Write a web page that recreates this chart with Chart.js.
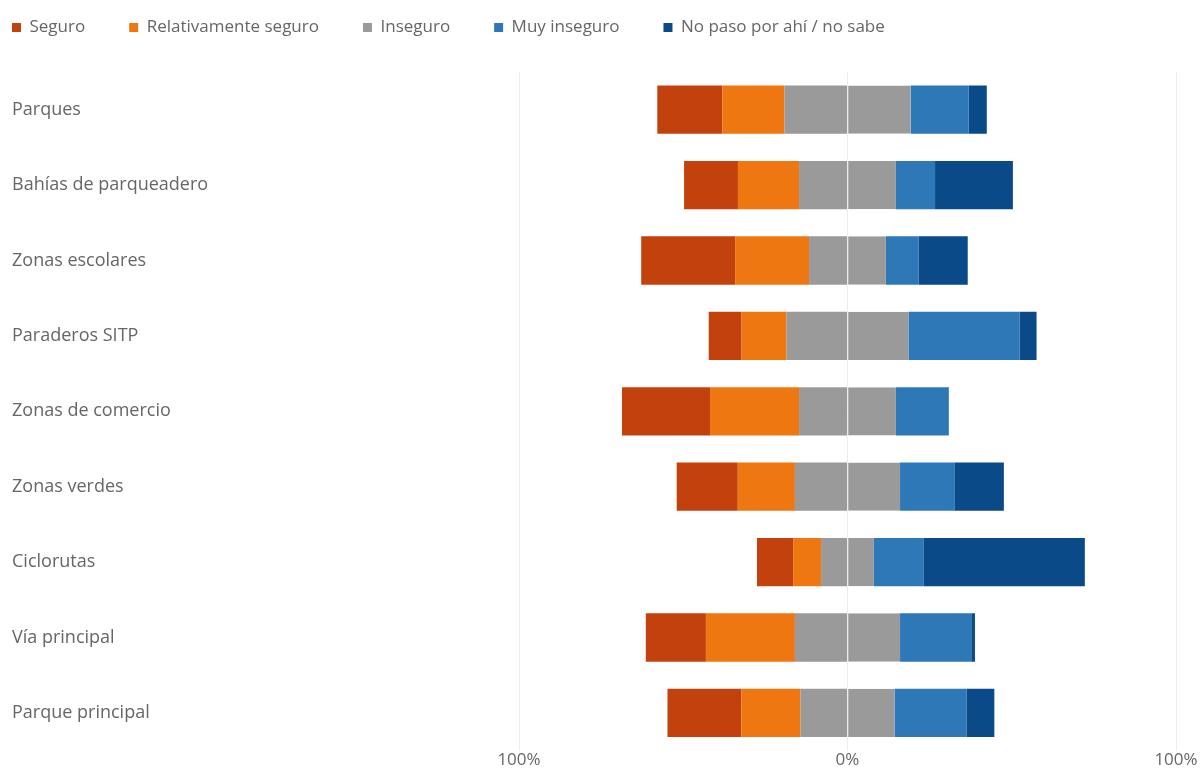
<!DOCTYPE html>
<html>
<head>
<meta charset="utf-8">
<script src="https://cdn.jsdelivr.net/npm/chart.js@4.4.1/dist/chart.umd.min.js"></script>
<style>
html, body { margin: 0; padding: 0; background: #fff; }
#wrap { width: 1202px; height: 769px; position: relative; }
</style>
</head>
<body>
<div id="wrap"><canvas id="chart"></canvas></div>
<script>
// Data (percent of answers per place)
const categories = ['Parques', 'Bahías de parqueadero', 'Zonas escolares', 'Paraderos SITP',
  'Zonas de comercio', 'Zonas verdes', 'Ciclorutas', 'Vía principal', 'Parque principal'];
const seguro      = [19.8, 16.4, 28.6, 10.0, 26.8, 18.6, 11.0, 18.3, 22.5];
const relSeguro   = [18.9, 18.6, 22.5, 13.7, 27.1, 17.4,  8.5, 27.1, 18.0];
const inseguro    = [38.4, 29.5, 23.4, 37.1, 29.5, 32.0, 16.1, 32.0, 28.6];
const muyInseguro = [17.7, 11.9, 10.0, 33.8, 16.1, 16.7, 15.2, 21.9, 21.9];
const noSabe      = [ 5.5, 23.7, 14.9,  5.2,  0.0, 14.9, 49.0,  0.9,  8.5];
const tickLabels  = {'-100': '100%', '0': '0%', '100': '100%'};

const FONT = "'Open Sans', sans-serif";
const TEXT = '#666666';
const LEGEND_PAD = 44;

(function() {
  'use strict';

  const neg = arr => arr.map(v => -v);
  const half = arr => arr.map(v => v / 2);

  // negative side stacks outward from 0: Inseguro half, Relativamente, Seguro
  const datasets = [
    { label: 'Inseguro', data: neg(half(inseguro)), backgroundColor: '#9a9a9a', rank: 2 },
    { label: 'Relativamente seguro', data: neg(relSeguro), backgroundColor: '#ee7711', rank: 1 },
    { label: 'Seguro', data: neg(seguro), backgroundColor: '#c3410c', rank: 0 },
    { label: 'Inseguro', data: half(inseguro), backgroundColor: '#9a9a9a', rank: 99,
      borderColor: '#b4b4b4', borderWidth: { left: 1, right: 0, top: 0, bottom: 0 }, borderSkipped: false },
    { label: 'Muy inseguro', data: muyInseguro, backgroundColor: '#2e78b7', rank: 3 },
    { label: 'No paso por ahí / no sabe', data: noSabe, backgroundColor: '#0b4a88', rank: 4 }
  ];
  datasets.forEach(d => {
    d.stack = 's';
    d.categoryPercentage = 1;
    d.barPercentage = 0.64;
  });

  // move the legend row to the top-left corner
  const legendShift = {
    id: 'legendShift',
    beforeDraw(chart) {
      chart.legend.left = 12 - LEGEND_PAD;
      chart.legend.top = 19 - LEGEND_PAD;
    }
  };

  new Chart(document.getElementById('chart'), {
    type: 'bar',
    data: { labels: categories, datasets: datasets },
    plugins: [legendShift],
    options: {
      indexAxis: 'y',
      responsive: true,
      maintainAspectRatio: false,
      animation: false,
      layout: { padding: { left: 12, right: 26, top: 1, bottom: 0 } },
      plugins: {
        tooltip: { enabled: false },
        legend: {
          position: 'top',
          align: 'start',
          labels: {
            color: TEXT,
            font: { family: FONT, size: 17 },
            boxWidth: 9,
            boxHeight: 9,
            padding: LEGEND_PAD,
            filter: (item, data) => data.datasets[item.datasetIndex].rank < 99,
            sort: (a, b, data) => data.datasets[a.datasetIndex].rank - data.datasets[b.datasetIndex].rank
          }
        }
      },
      scales: {
        x: {
          stacked: true,
          min: -100,
          max: 100,
          border: { display: false },
          grid: { color: '#ececec', drawTicks: false },
          ticks: {
            stepSize: 100,
            color: TEXT,
            padding: -1,
            font: { family: FONT, size: 17 },
            callback: v => tickLabels[String(v)]
          }
        },
        y: {
          stacked: true,
          border: { display: false },
          grid: { display: false },
          ticks: {
            crossAlign: 'far',
            color: TEXT,
            font: { family: FONT, size: 18 },
            padding: 0
          },
          afterFit: scale => { scale.width = 507; }
        }
      }
    }
  });
})();
</script>
</body>
</html>
